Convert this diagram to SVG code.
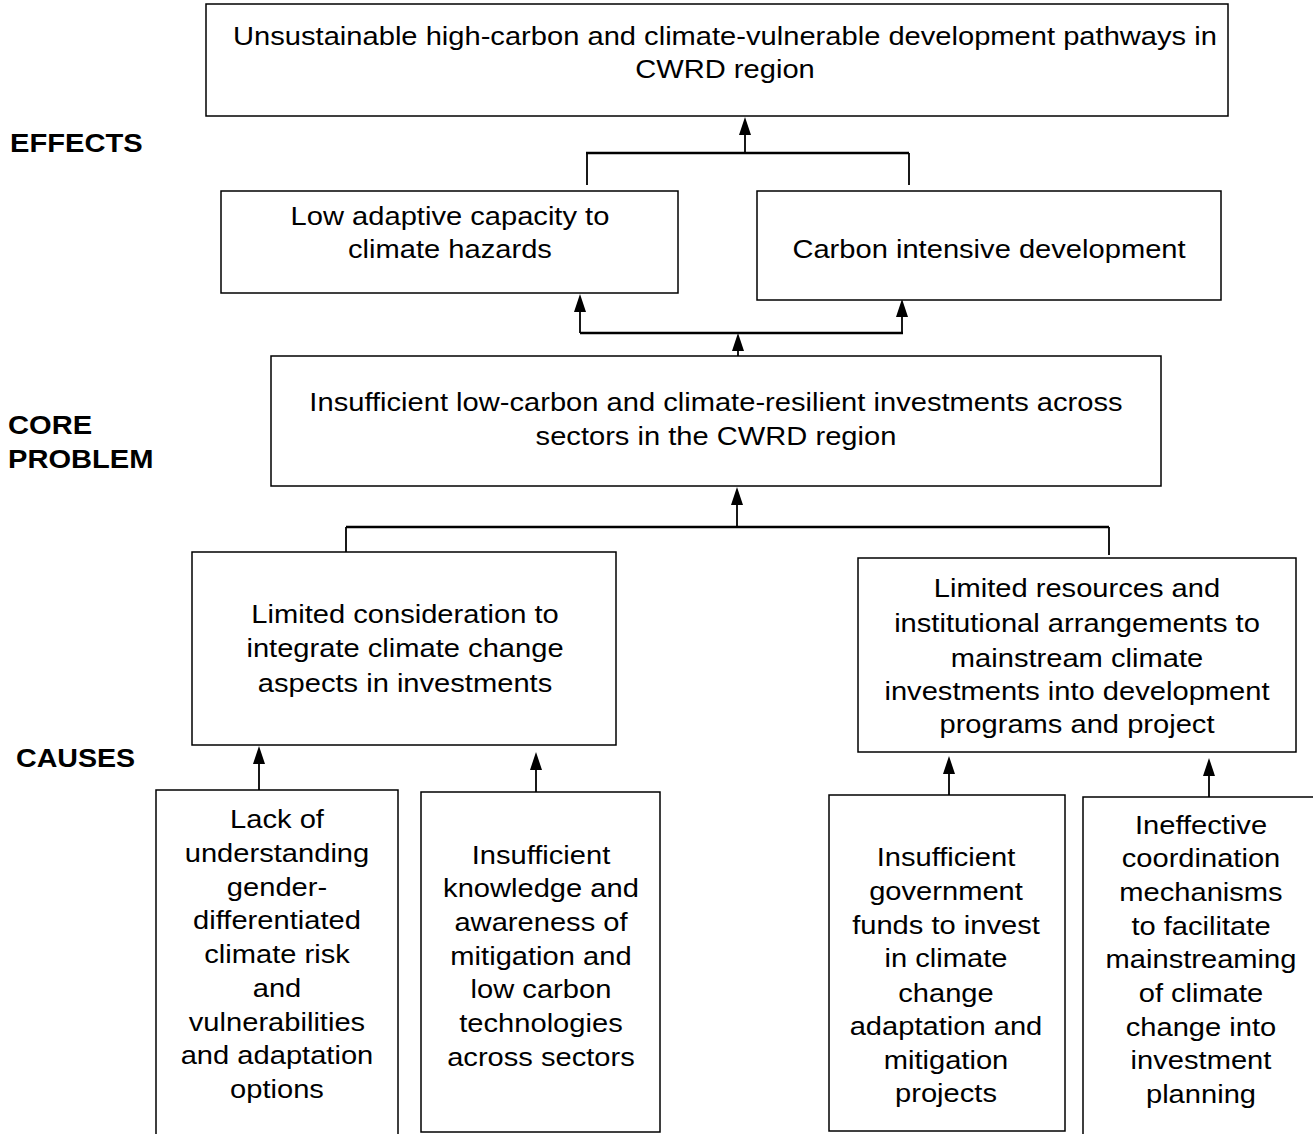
<svg xmlns="http://www.w3.org/2000/svg" width="1313" height="1134" viewBox="0 0 1313 1134">
<defs>
<style>
.box{fill:#fff;stroke:#000;stroke-width:1.5}
.t{font-family:"Liberation Sans",Arial,sans-serif;font-size:26px;fill:#000;text-anchor:middle}
.lbl{font-family:"Liberation Sans",Arial,sans-serif;font-size:26px;font-weight:bold;fill:#000}
.c{fill:none;stroke:#000;stroke-width:1.8}
.h{fill:none;stroke:#000;stroke-width:2.5}
</style>
</defs>
<g id="labels">
<text class="lbl" transform="matrix(1.12 0 0 1 -1.2 0)" x="10" y="152">EFFECTS</text>
<text class="lbl" transform="matrix(1.12 0 0 1 -0.96 0)" x="8" y="434">CORE</text>
<text class="lbl" transform="matrix(1.12 0 0 1 -0.96 0)" x="8" y="468">PROBLEM</text>
<text class="lbl" transform="matrix(1.1 0 0 1 -1.6 0)" x="16" y="767">CAUSES</text>
</g>
<g id="connectors">
<line class="c" x1="745" y1="153" x2="745" y2="130"/>
<path d="M739,135 L745,117 L751,135 Z" fill="#000"/>
<line class="h" x1="586" y1="153" x2="909" y2="153"/>
<line class="c" x1="587" y1="153" x2="587" y2="185"/>
<line class="c" x1="909" y1="153" x2="909" y2="185"/>
<line class="h" x1="580" y1="333" x2="903" y2="333"/>
<line class="c" x1="580" y1="333" x2="580" y2="310"/>
<path d="M574,312 L580,294 L586,312 Z" fill="#000"/>
<line class="c" x1="902" y1="333" x2="902" y2="315"/>
<path d="M896,317 L902,299 L908,317 Z" fill="#000"/>
<line class="c" x1="738" y1="356" x2="738" y2="345"/>
<path d="M732,351 L738,333 L744,351 Z" fill="#000"/>
<line class="c" x1="737" y1="527" x2="737" y2="500"/>
<path d="M731,505 L737,487 L743,505 Z" fill="#000"/>
<line class="h" x1="346" y1="527" x2="1109" y2="527"/>
<line class="c" x1="346" y1="527" x2="346" y2="555"/>
<line class="c" x1="1109" y1="527" x2="1109" y2="555"/>
<line class="c" x1="259" y1="790" x2="259" y2="760"/>
<path d="M253,764 L259,746 L265,764 Z" fill="#000"/>
<line class="c" x1="536" y1="795" x2="536" y2="765"/>
<path d="M530,770 L536,752 L542,770 Z" fill="#000"/>
<line class="c" x1="949" y1="795" x2="949" y2="770"/>
<path d="M943,774 L949,756 L955,774 Z" fill="#000"/>
<line class="c" x1="1209" y1="797" x2="1209" y2="772"/>
<path d="M1203,776 L1209,758 L1215,776 Z" fill="#000"/>
</g>
<g id="n-top">
<rect class="box" x="206" y="4" width="1022" height="112"/>
<g transform="matrix(1.12 0 0 1 -87 0)">
<text class="t" x="725" y="45">Unsustainable high-carbon and climate-vulnerable development pathways in</text>
<text class="t" x="725" y="78">CWRD region</text>
</g>
</g>
<g id="n-adaptive">
<rect class="box" x="221" y="191" width="457" height="102"/>
<g transform="matrix(1.12 0 0 1 -54 0)">
<text class="t" x="450" y="225">Low adaptive capacity to</text>
<text class="t" x="450" y="258">climate hazards</text>
</g>
</g>
<g id="n-carbon">
<rect class="box" x="757" y="191" width="464" height="109"/>
<g transform="matrix(1.12 0 0 1 -118.68 0)">
<text class="t" x="989" y="258">Carbon intensive development</text>
</g>
</g>
<g id="n-core">
<rect class="box" x="271" y="356" width="890" height="130"/>
<g transform="matrix(1.12 0 0 1 -85.92 0)">
<text class="t" x="716" y="411">Insufficient low-carbon and climate-resilient investments across</text>
<text class="t" x="716" y="445">sectors in the CWRD region</text>
</g>
</g>
<g id="n-consideration">
<rect class="box" x="192" y="552" width="424" height="193"/>
<g transform="matrix(1.12 0 0 1 -48.6 0)">
<text class="t" x="405" y="623">Limited consideration to</text>
<text class="t" x="405" y="657">integrate climate change</text>
<text class="t" x="405" y="692">aspects in investments</text>
</g>
</g>
<g id="n-resources">
<rect class="box" x="858" y="558" width="438" height="194"/>
<g transform="matrix(1.12 0 0 1 -129.24 0)">
<text class="t" x="1077" y="597">Limited resources and</text>
<text class="t" x="1077" y="632">institutional arrangements to</text>
<text class="t" x="1077" y="667">mainstream climate</text>
<text class="t" x="1077" y="700">investments into development</text>
<text class="t" x="1077" y="733">programs and project</text>
</g>
</g>
<g id="n-gender">
<path class="box" d="M156,1140 L156,790 L398,790 L398,1140"/>
<g transform="matrix(1.12 0 0 1 -33.24 0)">
<text class="t" x="277" y="828">Lack of</text>
<text class="t" x="277" y="862">understanding</text>
<text class="t" x="277" y="896">gender-</text>
<text class="t" x="277" y="929">differentiated</text>
<text class="t" x="277" y="963">climate risk</text>
<text class="t" x="277" y="997">and</text>
<text class="t" x="277" y="1031">vulnerabilities</text>
<text class="t" x="277" y="1064">and adaptation</text>
<text class="t" x="277" y="1098">options</text>
</g>
</g>
<g id="n-knowledge">
<rect class="box" x="421" y="792" width="239" height="340"/>
<g transform="matrix(1.12 0 0 1 -64.92 0)">
<text class="t" x="541" y="864">Insufficient</text>
<text class="t" x="541" y="897">knowledge and</text>
<text class="t" x="541" y="931">awareness of</text>
<text class="t" x="541" y="965">mitigation and</text>
<text class="t" x="541" y="998">low carbon</text>
<text class="t" x="541" y="1032">technologies</text>
<text class="t" x="541" y="1066">across sectors</text>
</g>
</g>
<g id="n-funds">
<rect class="box" x="829" y="795" width="236" height="336"/>
<g transform="matrix(1.12 0 0 1 -113.52 0)">
<text class="t" x="946" y="866">Insufficient</text>
<text class="t" x="946" y="900">government</text>
<text class="t" x="946" y="934">funds to invest</text>
<text class="t" x="946" y="967">in climate</text>
<text class="t" x="946" y="1002">change</text>
<text class="t" x="946" y="1035">adaptation and</text>
<text class="t" x="946" y="1069">mitigation</text>
<text class="t" x="946" y="1102">projects</text>
</g>
</g>
<g id="n-coordination">
<path class="box" d="M1083,1140 L1083,797 L1313,797"/>
<g transform="matrix(1.12 0 0 1 -144.12 0)">
<text class="t" x="1201" y="834">Ineffective</text>
<text class="t" x="1201" y="867">coordination</text>
<text class="t" x="1201" y="901">mechanisms</text>
<text class="t" x="1201" y="935">to facilitate</text>
<text class="t" x="1201" y="968">mainstreaming</text>
<text class="t" x="1201" y="1002">of climate</text>
<text class="t" x="1201" y="1036">change into</text>
<text class="t" x="1201" y="1069">investment</text>
<text class="t" x="1201" y="1103">planning</text>
</g>
</g>
</svg>
